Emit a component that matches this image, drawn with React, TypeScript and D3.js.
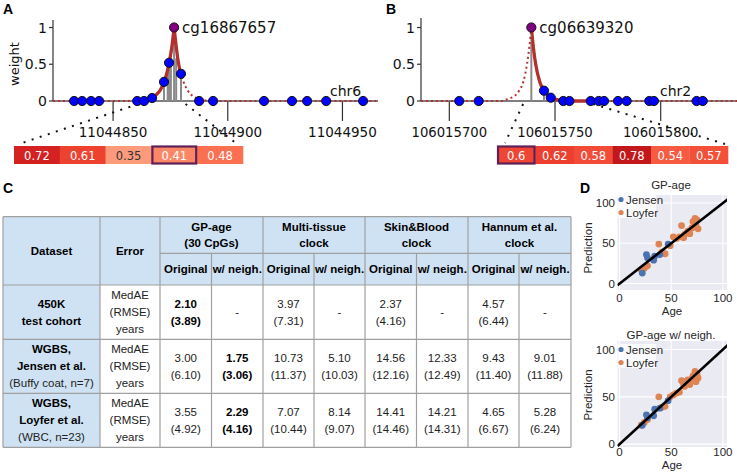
import React from "react";
import * as d3 from "d3";

const FONT_PLOT = "'DejaVu Sans', sans-serif";
const FONT_SANS = "'Liberation Sans', Arial, sans-serif";

// ===================== Panel A data =====================
const aLetter = "A";
const aTarget = 11044876.6;
const aLabel = "cg16867657";
const aChrom = "chr6";
const aCpgPos = [11044833, 11044836.5, 11044840.4, 11044843.9, 11044860.5, 11044863.5, 11044867, 11044872.2, 11044874.4, 11044876.6, 11044879.6, 11044887.5, 11044893.6, 11044915.8, 11044928, 11044934.6, 11044942.9, 11044959];
const aCpgWeight = [0, 0, 0, 0, 0, 0, 0.04, 0.26, 0.52, 1, 0.37, 0, 0, 0, 0, 0, 0, 0];
const aStemPos = [11044872.2, 11044873.8, 11044874.4, 11044875.2, 11044876.6, 11044877.5, 11044879.6];
const aStemWeight = [0.26, 0.45, 0.52, 0.55, 1, 0.58, 0.37];
const aCurvePos = [11044823.8, 11044858, 11044862, 11044864.6, 11044866.6, 11044868.6, 11044870.6, 11044872.2, 11044873.6, 11044874.4, 11044875.6, 11044876.6, 11044877.6, 11044878.6, 11044879.6, 11044880.6, 11044882.6, 11044884.6, 11044886.6, 11044888.6, 11044892, 11044965.5];
const aCurveWeight = [0, 0, 0.01, 0.02, 0.04, 0.08, 0.15, 0.26, 0.4, 0.52, 0.73, 1, 0.72, 0.5, 0.37, 0.27, 0.14, 0.07, 0.037, 0.02, 0, 0];
const aSolidRange = [11044861, 11044879.6];
const aWindow = [11044861, 11044881.6];
const aHeat = [0.72, 0.61, 0.35, 0.41, 0.48];
const aHeatTarget = 3;
const aTicks = [11044850, 11044900, 11044950];
const aDomain = [11044823.8, 11044965.5];

// ===================== Panel B data =====================
const bLetter = "B";
const bTarget = 106015738.8;
const bLabel = "cg06639320";
const bChrom = "chr2";
const bCpgPos = [106015704.7, 106015713.9, 106015738.8, 106015744.8, 106015748, 106015753.9, 106015756.8, 106015766.9, 106015770.7, 106015773.2, 106015779.8, 106015783.9, 106015794.6, 106015796.8, 106015817, 106015819.9];
const bCpgWeight = [0, 0, 1, 0.14, 0.045, 0, 0, 0, 0, 0, 0, 0, 0, 0, 0, 0];
const bStemPos = [106015738.8, 106015744.8, 106015748];
const bStemWeight = [1, 0.14, 0.045];
const bCurvePos = [106015686.6, 106015725, 106015727, 106015729, 106015731, 106015733, 106015735, 106015736.8, 106015737.8, 106015738.8, 106015739.8, 106015740.8, 106015742.8, 106015744.8, 106015746.8, 106015748, 106015750.8, 106015754, 106015758, 106015836.1];
const bCurveWeight = [0, 0, 0.02, 0.04, 0.07, 0.14, 0.26, 0.51, 0.72, 1, 0.72, 0.51, 0.26, 0.14, 0.07, 0.045, 0.02, 0.005, 0, 0];
const bSolidRange = [106015738.8, 106015767];
const bWindow = [106015734.9, 106015768];
const bHeat = [0.6, 0.62, 0.58, 0.78, 0.54, 0.57];
const bHeatTarget = 0;
const bTicks = [106015700, 106015750, 106015800];
const bDomain = [106015686.6, 106015836.1];

// ===================== Panel C data =====================
const methodNames = [["GP-age", "(30 CpGs)"], ["Multi-tissue", "clock"], ["Skin&Blood", "clock"], ["Hannum et al.", "clock"]];
const subHeaders = ["Original", "w/ neigh."];
const datasetBold = [["450K", "test cohort"], ["WGBS,", "Jensen et al."], ["WGBS,", "Loyfer et al."]];
const datasetNote = ["", "(Buffy coat, n=7)", "(WBC, n=23)"];
const errorLines = ["MedAE", "(RMSE)", "years"];
const medae: (number | null)[][] = [
  [2.10, null, 3.97, null, 2.37, null, 4.57, null],
  [3.00, 1.75, 10.73, 5.10, 14.56, 12.33, 9.43, 9.01],
  [3.55, 2.29, 7.07, 8.14, 14.41, 14.21, 4.65, 5.28],
];
const rmse: (number | null)[][] = [
  [3.89, null, 7.31, null, 4.16, null, 6.44, null],
  [6.10, 3.06, 11.37, 10.03, 12.16, 12.49, 11.40, 11.88],
  [4.92, 4.16, 10.44, 9.07, 14.46, 14.31, 6.67, 6.24],
];
const bestCol = [0, 1, 1];

// ===================== Panel D data =====================
const seriesNames = ["Jensen", "Loyfer"];
const seriesColors = ["#4c72b0", "#dd8452"];
const jensenAge = [22, 26, 27, 33, 34, 39, 47];
const jensenPredGP = [13, 36, 32, 29, 34, 36, 49];
const jensenPredNeigh = [20, 31, 28, 30, 37, 38, 46];
const loyferAge = [21, 24, 27, 38, 41, 44, 49, 52, 55, 58, 60, 62, 63, 65, 66, 68, 70, 71, 72, 73, 74, 75, 76];
const loyferPredGP = [17, 19, 22, 49, 39, 37, 47, 58, 56, 58, 72, 57, 61, 63, 65, 62, 69, 77, 70, 81, 73, 79, 68];
const loyferPredNeigh = [20, 23, 26, 50, 39, 40, 50, 52, 54, 55, 67, 63, 61, 66, 68, 63, 69, 72, 71, 77, 66, 74, 70];
const scatterTicks = [0, 50, 100];

// ===================== Components =====================
type GCfg = {
  id: string; letter: string; letterX: number; target: number; label: string; chrom: string; chromX: number;
  cpgPos: number[]; cpgWeight: number[]; stemPos: number[]; stemWeight: number[];
  curvePos: number[]; curveWeight: number[]; solid: number[]; win: number[];
  heat: number[]; heatTarget: number; heatX: number[]; ticks: number[]; domain: number[]; xRange: number[];
  spineTop: number; showYLabel: boolean; connEnds: number[][]; tickFont: number;
};

function GenomePanel({ c }: { c: GCfg }) {
  const x = d3.scaleLinear().domain(c.domain).range(c.xRange);
  const y = d3.scaleLinear().domain([0, 1]).range([101, 27.5]);
  const pts = c.curvePos.map((p, i) => [p, c.curveWeight[i]] as [number, number]);
  const line = d3.line<[number, number]>().x(d => x(d[0])).y(d => y(d[1])).curve(d3.curveMonotoneX);
  const path = (line(pts.filter(d => d[0] <= c.target)) || "") + (line(pts.filter(d => d[0] >= c.target)) || "");
  const heatW = (c.heatX[1] - c.heatX[0]) / c.heat.length;
  const axisX = c.xRange[0];
  const red = "#b3302c";
  return (
    <g>
      <text x={c.letterX} y={14} fontFamily={FONT_SANS} fontWeight="bold" fontSize={14}>{c.letter}</text>
      <defs>
        <clipPath id={`solid-${c.id}`}>
          <rect x={x(c.solid[0])} y={0} width={x(c.solid[1]) - x(c.solid[0])} height={110} />
        </clipPath>
      </defs>
      {/* y axis */}
      <line x1={axisX} x2={axisX} y1={c.spineTop} y2={101} stroke="#333" strokeWidth={1.2} />
      {[0, 0.5, 1].map(t => (
        <g key={t}>
          <line x1={axisX - 4} x2={axisX} y1={y(t)} y2={y(t)} stroke="#333" strokeWidth={1.2} />
          <text x={axisX - 6} y={y(t)} textAnchor="end" dominantBaseline="central" fontFamily={FONT_PLOT} fontSize={14} fill="#111">{d3.format("~g")(t)}</text>
        </g>
      ))}
      {c.showYLabel && (
        <text transform={`translate(14,64) rotate(-90)`} textAnchor="middle" dominantBaseline="central" fontFamily={FONT_PLOT} fontSize={13} fill="#111">weight</text>
      )}
      {/* x ticks */}
      {c.ticks.map(t => (
        <g key={t}>
          <line x1={x(t)} x2={x(t)} y1={101} y2={121} stroke="#333" strokeWidth={1.2} />
          <text x={x(t)} y={132} textAnchor="middle" dominantBaseline="central" fontFamily={FONT_PLOT} fontSize={c.tickFont} fill="#111">{d3.format("d")(t)}</text>
        </g>
      ))}
      {/* baseline */}
      <line x1={c.xRange[0]} x2={c.xRange[1]} y1={101} y2={101} stroke="#555" strokeWidth={1.3} />
      {/* stems */}
      {c.stemPos.map((p, i) => (
        <line key={i} x1={x(p)} x2={x(p)} y1={101} y2={y(c.stemWeight[i])} stroke="#8a8a8a" strokeWidth={2} />
      ))}
      {/* kernel curve */}
      <path d={path} fill="none" stroke={red} strokeWidth={2} strokeDasharray="2 3" />
      <path d={path} fill="none" stroke={red} strokeWidth={3.3} clipPath={`url(#solid-${c.id})`} />
      {/* connectors */}
      <line x1={x(c.win[0])} y1={104} x2={c.connEnds[0][0]} y2={c.connEnds[0][1]} stroke="#111" strokeWidth={2} strokeDasharray="2 6.5" />
      <line x1={x(c.win[1])} y1={104} x2={c.connEnds[1][0]} y2={c.connEnds[1][1]} stroke="#111" strokeWidth={2} strokeDasharray="2 6.5" />
      {/* points */}
      {c.cpgPos.map((p, i) => (
        <circle key={i} cx={x(p)} cy={y(c.cpgWeight[i])} r={4.6}
          fill={p === c.target ? "#800080" : "#0000ff"} stroke="#111" strokeWidth={1} />
      ))}
      <text x={x(c.target) + 8} y={y(1)} dominantBaseline="central" fontFamily={FONT_PLOT} fontSize={15} fill="#111">{c.label}</text>
      <text x={c.chromX} y={91} dominantBaseline="central" fontFamily={FONT_PLOT} fontSize={14} fill="#111">{c.chrom}</text>
      {/* heatmap */}
      {c.heat.map((v, i) => (
        <g key={i}>
          <rect x={c.heatX[0] + i * heatW} y={146} width={heatW + 0.3} height={18} fill={d3.interpolateReds(v)} />
          <text x={c.heatX[0] + (i + 0.5) * heatW} y={155.5} textAnchor="middle" dominantBaseline="central"
            fontFamily={FONT_PLOT} fontSize={11.5} fill={v < 0.4 ? "#333" : "#fff"}>{d3.format("~g")(v)}</text>
        </g>
      ))}
      <rect x={c.heatX[0] + c.heatTarget * heatW + 1} y={146.5} width={heatW - 2} height={17} fill="none" stroke="#5e2056" strokeWidth={2.2} />
    </g>
  );
}

function TablePanel() {
  const cols = [3, 100, 160, 211.5, 263, 314, 365, 416.5, 468, 519, 571];
  const rows = [216.7, 253.3, 285, 339.3, 393.3, 447.3];
  const lc = "#a0a0a0";
  const lw = 1.2;
  const blue = "#cfe2f3";
  const fs = 11.5;
  const lh = 17;
  const cx = (i: number) => (cols[i] + cols[i + 1]) / 2;
  const lines: React.ReactNode[] = [];
  const hl = (yy: number, x1: number, x2: number, k: string) => lines.push(<line key={k} x1={x1} x2={x2} y1={yy} y2={yy} stroke={lc} strokeWidth={lw} />);
  const vl = (xx: number, y1: number, y2: number, k: string) => lines.push(<line key={k} x1={xx} x2={xx} y1={y1} y2={y2} stroke={lc} strokeWidth={lw} />);
  [0, 2, 3, 4, 5].forEach(r => hl(rows[r], cols[0], cols[10], `h${r}`));
  hl(rows[1], cols[2], cols[10], "h1");
  [0, 1, 2, 4, 6, 8, 10].forEach(ci => vl(cols[ci], rows[0], rows[5], `v${ci}`));
  [3, 5, 7, 9].forEach(ci => vl(cols[ci], rows[1], rows[5], `v${ci}`));
  const txt = (x: number, y: number, s: string, bold: boolean, k: string) => (
    <text key={k} x={x} y={y} textAnchor="middle" dominantBaseline="central" fontFamily={FONT_SANS}
      fontSize={fs} fontWeight={bold ? "bold" : "normal"} fill={bold ? "#000" : "#222"}>{s}</text>
  );
  const fmt = d3.format(".2f");
  return (
    <g>
      <text x={3} y={193} fontFamily={FONT_SANS} fontWeight="bold" fontSize={14}>C</text>
      <rect x={cols[0]} y={rows[0]} width={cols[10] - cols[0]} height={rows[5] - rows[0]} fill="#fff" />
      <rect x={cols[0]} y={rows[0]} width={cols[10] - cols[0]} height={rows[2] - rows[0]} fill={blue} />
      <rect x={cols[0]} y={rows[2]} width={cols[1] - cols[0]} height={rows[5] - rows[2]} fill={blue} />
      {lines}
      {txt(cx(0), (rows[0] + rows[2]) / 2, "Dataset", true, "ds")}
      {txt(cx(1), (rows[0] + rows[2]) / 2, "Error", true, "er")}
      {methodNames.map((m, i) => {
        const mx = (cols[2 + 2 * i] + cols[4 + 2 * i]) / 2;
        const my = (rows[0] + rows[1]) / 2;
        return m.map((s, j) => txt(mx, my - 8 + j * 16, s, true, `m${i}${j}`));
      })}
      {methodNames.map((_, i) => subHeaders.map((s, j) => txt(cx(2 + 2 * i + j), (rows[1] + rows[2]) / 2, s, true, `s${i}${j}`)))}
      {datasetBold.map((b, r) => {
        const cy = (rows[2 + r] + rows[3 + r]) / 2;
        const all = datasetNote[r] ? [...b, datasetNote[r]] : b;
        const n = all.length;
        return all.map((s, j) => txt(cx(0), cy + (j - (n - 1) / 2) * lh, s, j < b.length, `d${r}${j}`));
      })}
      {datasetBold.map((_, r) => {
        const cy = (rows[2 + r] + rows[3 + r]) / 2;
        return errorLines.map((s, j) => txt(cx(1), cy + (j - 1) * lh, s, false, `e${r}${j}`));
      })}
      {medae.map((row, r) => {
        const cy = (rows[2 + r] + rows[3 + r]) / 2;
        return row.map((v, ci) => {
          const bold = bestCol[r] === ci;
          if (v === null) return txt(cx(2 + ci), cy, "-", false, `v${r}${ci}`);
          return [
            txt(cx(2 + ci), cy - lh / 2, fmt(v), bold, `v${r}${ci}a`),
            txt(cx(2 + ci), cy + lh / 2, `(${fmt(rmse[r][ci] as number)})`, bold, `v${r}${ci}b`),
          ];
        });
      })}
    </g>
  );
}

type SCfg = { id: string; title: string; titleY: number; yDomain: number[]; yRange: number[]; jPred: number[]; lPred: number[]; legTop: number; legW: number; labelY: number; xTickY: number; ageY: number; };

function ScatterPanel({ c }: { c: SCfg }) {
  const x = d3.scaleLinear().domain([-2, 104]).range([617.5, 727]);
  const y = d3.scaleLinear().domain(c.yDomain).range(c.yRange);
  const [x0, x1] = x.range();
  const [yb, yt] = y.range();
  const ptsJ = jensenAge.map((a, i) => [a, c.jPred[i]]);
  const ptsL = loyferAge.map((a, i) => [a, c.lPred[i]]);
  const lo = Math.max(x.domain()[0], y.domain()[0]);
  const hi = Math.min(x.domain()[1], y.domain()[1]) + 4;
  return (
    <g>
      <defs>
        <clipPath id={`clip-${c.id}`}>
          <rect x={x0} y={yt} width={x1 - x0} height={yb - yt} />
        </clipPath>
      </defs>
      <rect x={x0} y={yt} width={x1 - x0} height={yb - yt} fill="#eaeaf2" />
      {scatterTicks.map(t => (
        <g key={t}>
          <line x1={x(t)} x2={x(t)} y1={yt} y2={yb} stroke="#fff" strokeWidth={1.1} />
          <line x1={x0} x2={x1} y1={y(t)} y2={y(t)} stroke="#fff" strokeWidth={1.1} />
          <text x={x(t)} y={c.xTickY} textAnchor="middle" dominantBaseline="central" fontFamily={FONT_SANS} fontSize={11.5} fill="#262626">{t}</text>
          <text x={615} y={y(t)} textAnchor="end" dominantBaseline="central" fontFamily={FONT_SANS} fontSize={11.5} fill="#262626">{t}</text>
        </g>
      ))}
      <g clipPath={`url(#clip-${c.id})`}>
        {ptsL.map((p, i) => <circle key={`l${i}`} cx={x(p[0])} cy={y(p[1])} r={3.4} fill={seriesColors[1]} />)}
        {ptsJ.map((p, i) => <circle key={`j${i}`} cx={x(p[0])} cy={y(p[1])} r={3.4} fill={seriesColors[0]} />)}
        <line x1={x(lo)} y1={y(lo)} x2={x(hi)} y2={y(hi)} stroke="#000" strokeWidth={2.6} />
      </g>
      <rect x={x0 + 0.5} y={c.legTop} width={c.legW} height={24} fill="#fff" opacity={0.8} />
      {seriesNames.map((s, i) => (
        <g key={s}>
          <circle cx={621} cy={c.legTop + 5.5 + i * 13} r={2.6} fill={seriesColors[i]} />
          <text x={626} y={c.legTop + 5.5 + i * 13} dominantBaseline="central" fontFamily={FONT_SANS} fontSize={11.5} fill="#262626">{s}</text>
        </g>
      ))}
      <text x={671} y={c.titleY} textAnchor="middle" dominantBaseline="central" fontFamily={FONT_SANS} fontSize={11.5} fill="#262626">{c.title}</text>
      <text transform={`translate(588,${c.labelY}) rotate(-90)`} textAnchor="middle" dominantBaseline="central" fontFamily={FONT_SANS} fontSize={11.5} fill="#262626">Prediction</text>
      <text x={672} y={c.ageY} textAnchor="middle" dominantBaseline="central" fontFamily={FONT_SANS} fontSize={11.5} fill="#262626">Age</text>
    </g>
  );
}

const cfgA: GCfg = {
  id: "a", letter: aLetter, letterX: 3, target: aTarget, label: aLabel, chrom: aChrom, chromX: 330,
  cpgPos: aCpgPos, cpgWeight: aCpgWeight, stemPos: aStemPos, stemWeight: aStemWeight,
  curvePos: aCurvePos, curveWeight: aCurveWeight, solid: aSolidRange, win: aWindow,
  heat: aHeat, heatTarget: aHeatTarget, heatX: [14, 243], ticks: aTicks, domain: aDomain, xRange: [53, 378],
  spineTop: 20, showYLabel: true, connEnds: [[22, 143], [237, 144]], tickFont: 13.5,
};
const cfgB: GCfg = {
  id: "b", letter: bLetter, letterX: 386, target: bTarget, label: bLabel, chrom: bChrom, chromX: 660,
  cpgPos: bCpgPos, cpgWeight: bCpgWeight, stemPos: bStemPos, stemWeight: bStemWeight,
  curvePos: bCurvePos, curveWeight: bCurveWeight, solid: bSolidRange, win: bWindow,
  heat: bHeat, heatTarget: bHeatTarget, heatX: [497, 728], ticks: bTicks, domain: bDomain, xRange: [421, 737],
  spineTop: 18, showYLabel: false, connEnds: [[505, 143], [725, 144]], tickFont: 13.2,
};
const cfgD1: SCfg = { id: "d1", title: "GP-age", titleY: 185, yDomain: [-8, 110], yRange: [290, 195], jPred: jensenPredGP, lPred: loyferPredGP, legTop: 194, legW: 38, labelY: 248, xTickY: 297.5, ageY: 311 };
const cfgD2: SCfg = { id: "d2", title: "GP-age w/ neigh.", titleY: 335, yDomain: [-3, 109], yRange: [447, 341], jPred: jensenPredNeigh, lPred: loyferPredNeigh, legTop: 344, legW: 38, labelY: 395, xTickY: 451.5, ageY: 465 };

export default function App() {
  return (
    <svg width={737} height={473} style={{ position: "absolute", left: 0, top: 0, background: "#fff" }}>
      <rect width={737} height={473} fill="#fff" />
      <GenomePanel c={cfgA} />
      <GenomePanel c={cfgB} />
      <TablePanel />
      <text x={580} y={193} fontFamily={FONT_SANS} fontWeight="bold" fontSize={14}>D</text>
      <ScatterPanel c={cfgD1} />
      <ScatterPanel c={cfgD2} />
    </svg>
  );
}
